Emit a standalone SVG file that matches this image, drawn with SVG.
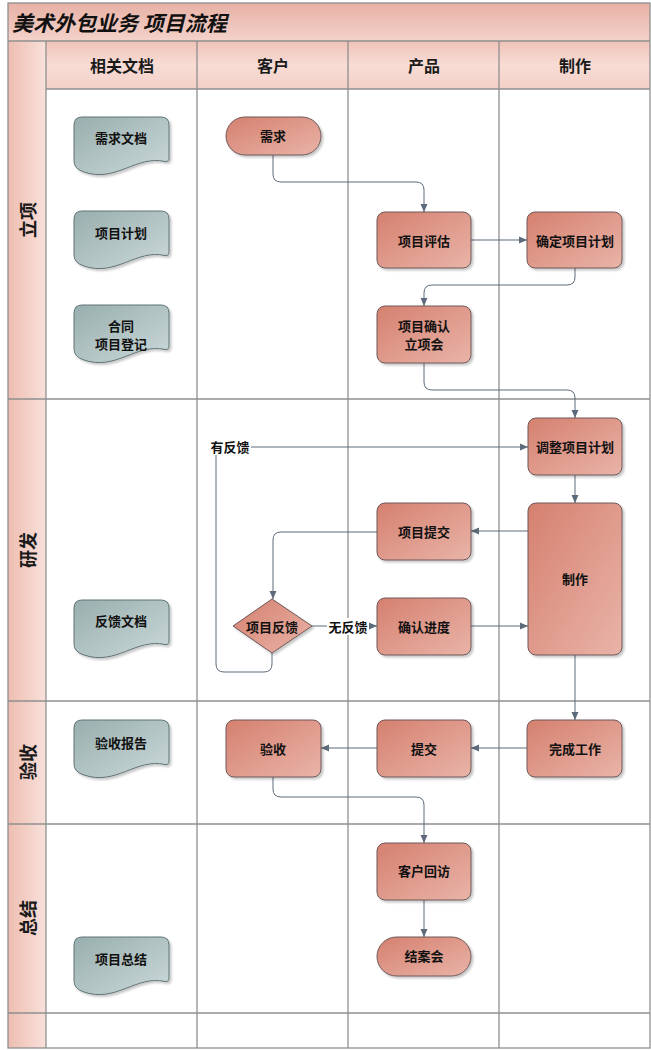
<svg xmlns="http://www.w3.org/2000/svg" xmlns:xlink="http://www.w3.org/1999/xlink" width="651" height="1050" viewBox="0 0 651 1050">
<style>
.grid{stroke:#8f8f8f;stroke-width:1.3;fill:none}
.proc{fill:url(#gProc);stroke:#6f5858;stroke-width:1;filter:url(#sh)}
.doc{fill:url(#gDoc);stroke:#607475;stroke-width:1;filter:url(#sh)}
.t{font-family:"Noto Sans CJK SC","Noto Sans",sans-serif;font-weight:bold;font-size:13px;fill:#111;text-anchor:middle;dominant-baseline:central}
.hd{font-family:"Noto Sans CJK SC","Noto Sans",sans-serif;font-weight:bold;font-size:16px;fill:#1a1a1a;text-anchor:middle;dominant-baseline:central}
.ln{font-family:"Noto Sans CJK SC","Noto Sans",sans-serif;font-weight:bold;font-size:18px;fill:#1a1a1a;text-anchor:middle;dominant-baseline:central}
.c{fill:none;stroke:#5d6a79;stroke-width:1;marker-end:url(#ar)}
</style>
<defs>
<linearGradient id="gProc" x1="0" y1="0" x2="1" y2="1">
<stop offset="0" stop-color="#d5806f"/>
<stop offset="1" stop-color="#e9b4a8"/>
</linearGradient>
<linearGradient id="gDoc" x1="0" y1="0" x2="1" y2="1">
<stop offset="0" stop-color="#99aeae"/>
<stop offset="1" stop-color="#cbd9d9"/>
</linearGradient>
<linearGradient id="gTitle" x1="0" y1="0" x2="0" y2="1">
<stop offset="0" stop-color="#e8b1a5"/>
<stop offset="1" stop-color="#f3d2ca"/>
</linearGradient>
<linearGradient id="gHead" x1="0" y1="0" x2="0" y2="1">
<stop offset="0" stop-color="#f0c3b8"/>
<stop offset="0.5" stop-color="#f7dcd5"/>
<stop offset="1" stop-color="#f4d0c7"/>
</linearGradient>
<linearGradient id="gLane" x1="0" y1="0" x2="1" y2="0">
<stop offset="0" stop-color="#eebdb1"/>
<stop offset="1" stop-color="#f8e1db"/>
</linearGradient>
<filter id="sh" x="-10%" y="-10%" width="130%" height="130%">
<feDropShadow dx="2" dy="2" stdDeviation="1.2" flood-color="#000" flood-opacity="0.22"/>
</filter>
<marker id="ar" markerUnits="userSpaceOnUse" markerWidth="9" markerHeight="8" refX="8" refY="4" orient="auto">
<path d="M0,0.5 L8,4 L0,7.5 Z" fill="#5d6a79"/>
</marker>
<path id="docShape" d="M0,8 Q0,0 8,0 H87 Q95,0 95,8 V41 Q95,45 91,44.5 C62,38 42,66 10,55 Q0,52 0,44 Z"/>
</defs>

<g id="frame">
<rect x="8" y="3" width="642" height="1045" fill="#fff"/>
<rect x="8" y="3" width="642" height="38" fill="url(#gTitle)"/>
<rect x="46" y="41" width="604" height="48" fill="url(#gHead)"/>
<rect x="8" y="41" width="38" height="1007" fill="url(#gLane)"/>
<rect x="8" y="3" width="642" height="1045" class="grid"/>
<line x1="8" y1="41" x2="650" y2="41" class="grid"/>
<line x1="46" y1="89" x2="650" y2="89" class="grid"/>
<line x1="8" y1="399" x2="650" y2="399" class="grid"/>
<line x1="8" y1="701" x2="650" y2="701" class="grid"/>
<line x1="8" y1="824" x2="650" y2="824" class="grid"/>
<line x1="8" y1="1013" x2="650" y2="1013" class="grid"/>
<line x1="46" y1="41" x2="46" y2="1048" class="grid"/>
<line x1="197" y1="41" x2="197" y2="1048" class="grid"/>
<line x1="348" y1="41" x2="348" y2="1048" class="grid"/>
<line x1="499" y1="41" x2="499" y2="1048" class="grid"/>
<text x="12" y="22" font-family="'Noto Sans CJK SC','Noto Sans',sans-serif" font-weight="bold" font-style="italic" font-size="21" fill="#111" dominant-baseline="central">美术外包业务 项目流程</text>
<text class="hd" x="122" y="65">相关文档</text>
<text class="hd" x="273" y="65">客户</text>
<text class="hd" x="424" y="65">产品</text>
<text class="hd" x="575" y="65">制作</text>
<text class="ln" transform="translate(27,220) rotate(-90)">立项</text>
<text class="ln" transform="translate(27,550) rotate(-90)">研发</text>
<text class="ln" transform="translate(27,762) rotate(-90)">验收</text>
<text class="ln" transform="translate(27,918) rotate(-90)">总结</text>
</g>

<g id="connectors">
<path class="c" d="M273,155 V174 Q273,182 281,182 H416 Q424,182 424,190 V212"/>
<path class="c" d="M471,240 H527"/>
<path class="c" d="M575,268 V277 Q575,285 567,285 H432 Q424,285 424,293 V306"/>
<path class="c" d="M424,363 V382 Q424,390 432,390 H567 Q575,390 575,398 V418"/>
<path class="c" d="M575,475 V503"/>
<path class="c" d="M528,531 H471"/>
<path class="c" d="M377,532 H281 Q273,532 273,540 V599"/>
<path class="c" d="M312,626 H377"/>
<path class="c" d="M272,653 V664 Q272,672 264,672 H224 Q216,672 216,664 V455 Q216,447 224,447 H528"/>
<path class="c" d="M471,626 H528"/>
<path class="c" d="M575,655 V720"/>
<path class="c" d="M527,748 H471"/>
<path class="c" d="M377,748 H321"/>
<path class="c" d="M273,777 V789 Q273,797 281,797 H416 Q424,797 424,805 V843"/>
<path class="c" d="M424,900 V937"/>
<rect x="209" y="438" width="42" height="17" fill="#fff"/>
<text class="t" x="230" y="446">有反馈</text>
<rect x="327" y="618" width="42" height="17" fill="#fff"/>
<text class="t" x="348" y="626">无反馈</text>
</g>

<g id="doc1"><use href="#docShape" x="74" y="117" class="doc"/><text class="t" x="121" y="137">需求文档</text></g>
<g id="doc2"><use href="#docShape" x="74" y="211" class="doc"/><text class="t" x="121" y="232">项目计划</text></g>
<g id="doc3"><use href="#docShape" x="74" y="305" class="doc"/><text class="t" x="121" y="325">合同</text><text class="t" x="121" y="343">项目登记</text></g>
<g id="doc4"><use href="#docShape" x="74" y="600" class="doc"/><text class="t" x="121" y="620">反馈文档</text></g>
<g id="doc5"><use href="#docShape" x="74" y="720" class="doc"/><text class="t" x="121" y="742">验收报告</text></g>
<g id="doc6"><use href="#docShape" x="74" y="937" class="doc"/><text class="t" x="121" y="958">项目总结</text></g>

<g id="n-xuqiu"><rect class="proc" x="226" y="117" width="95" height="38" rx="19"/><text class="t" x="273" y="135">需求</text></g>
<g id="n-pinggu"><rect class="proc" x="377" y="212" width="94" height="56" rx="8"/><text class="t" x="424" y="240">项目评估</text></g>
<g id="n-queding"><rect class="proc" x="527" y="212" width="95" height="56" rx="8"/><text class="t" x="575" y="240">确定项目计划</text></g>
<g id="n-lixiang"><rect class="proc" x="377" y="306" width="94" height="57" rx="8"/><text class="t" x="424" y="325">项目确认</text><text class="t" x="424" y="343">立项会</text></g>
<g id="n-tiaozheng"><rect class="proc" x="528" y="418" width="94" height="57" rx="8"/><text class="t" x="575" y="446">调整项目计划</text></g>
<g id="n-zhizuo"><rect class="proc" x="528" y="503" width="94" height="152" rx="8"/><text class="t" x="575" y="578">制作</text></g>
<g id="n-tijiao1"><rect class="proc" x="377" y="503" width="94" height="57" rx="8"/><text class="t" x="424" y="531">项目提交</text></g>
<g id="n-jindu"><rect class="proc" x="377" y="598" width="94" height="57" rx="8"/><text class="t" x="424" y="626">确认进度</text></g>
<g id="n-fankui"><path class="proc" d="M272,599 L312,626 L272,653 L233,626 Z" stroke-linejoin="round"/><text class="t" x="272" y="626">项目反馈</text></g>
<g id="n-yanshou"><rect class="proc" x="226" y="720" width="95" height="57" rx="8"/><text class="t" x="273" y="748">验收</text></g>
<g id="n-tijiao2"><rect class="proc" x="377" y="720" width="94" height="57" rx="8"/><text class="t" x="424" y="748">提交</text></g>
<g id="n-wancheng"><rect class="proc" x="527" y="720" width="95" height="57" rx="8"/><text class="t" x="575" y="748">完成工作</text></g>
<g id="n-huifang"><rect class="proc" x="377" y="843" width="94" height="57" rx="8"/><text class="t" x="424" y="870">客户回访</text></g>
<g id="n-jiean"><rect class="proc" x="377" y="937" width="94" height="39" rx="19.5"/><text class="t" x="424" y="955">结案会</text></g>
</svg>
